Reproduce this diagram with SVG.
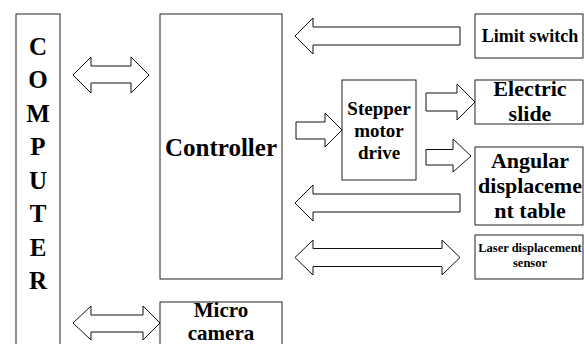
<svg xmlns="http://www.w3.org/2000/svg" width="584" height="344" viewBox="0 0 584 344">
<style>
.box{fill:#fff;stroke:#222;stroke-width:1}
.arr{fill:#fff;stroke:#111;stroke-width:1;stroke-linejoin:miter}
</style>
<rect width="584" height="344" fill="#fff"/>
<g font-family="Liberation Serif, Times New Roman, serif" font-weight="bold" text-anchor="middle" fill="#000">
<g id="computer">
<rect class="box" x="16" y="14" width="44" height="340"/>
<g font-size="25">
<text x="38" y="54.5">C</text>
<text x="38" y="88">O</text>
<text x="38" y="121.5">M</text>
<text x="38" y="155">P</text>
<text x="38" y="188.5">U</text>
<text x="38" y="222">T</text>
<text x="38" y="255.5">E</text>
<text x="38" y="289">R</text>
</g>
</g>
<g id="controller">
<rect class="box" x="160" y="14" width="122" height="265"/>
<text x="221" y="156" font-size="25">Controller</text>
</g>
<g id="micro-camera">
<rect class="box" x="160" y="302" width="122" height="50"/>
<text x="221" y="317" font-size="21">Micro</text>
<text x="221" y="340" font-size="21">camera</text>
</g>
<g id="stepper">
<rect class="box" x="342" y="80" width="74" height="100"/>
<text x="379" y="115" font-size="19">Stepper</text>
<text x="379" y="137" font-size="19">motor</text>
<text x="379" y="159" font-size="19">drive</text>
</g>
<g id="limit-switch">
<rect class="box" x="475" y="14" width="108" height="44"/>
<text x="530" y="42" font-size="18">Limit switch</text>
</g>
<g id="electric-slide">
<rect class="box" x="475" y="80" width="108" height="44"/>
<text x="530" y="96" font-size="22">Electric</text>
<text x="530" y="121" font-size="22">slide</text>
</g>
<g id="angular-table">
<rect class="box" x="475" y="147" width="108" height="78"/>
<text x="530" y="168" font-size="22">Angular</text>
<text x="530" y="193" font-size="22">displaceme</text>
<text x="530" y="218" font-size="22">nt table</text>
</g>
<g id="laser-sensor">
<rect class="box" x="475" y="235" width="108" height="44"/>
<text x="530" y="251.5" font-size="12.5">Laser displacement</text>
<text x="530" y="267" font-size="12.5">sensor</text>
</g>
</g>
<g id="connectors">
<polygon class="arr" points="73,75 91,57 91,66 131,66 131,57 149,75 131,93 131,83 91,83 91,93"/>
<polygon class="arr" points="73,323 91,306 91,315 143,315 143,306 160,323 143,340 143,332 91,332 91,340"/>
<polygon class="arr" points="295,36 313,18 313,27 460,27 460,45 313,45 313,54"/>
<polygon class="arr" points="296,122 325,122 325,113 342,130 325,147 325,139 296,139"/>
<polygon class="arr" points="426,93 457,93 457,84 475,102 457,120 457,111 426,111"/>
<polygon class="arr" points="426,149.5 453,149.5 453,139 471,156 453,172 453,165 426,165"/>
<polygon class="arr" points="295,203 313,185 313,194 460,194 460,212 313,212 313,221"/>
<polygon class="arr" points="295,257.5 313,240 313,248.5 442,248.5 442,240 460,257.5 442,275 442,266.5 313,266.5 313,275"/>
</g>
</svg>
